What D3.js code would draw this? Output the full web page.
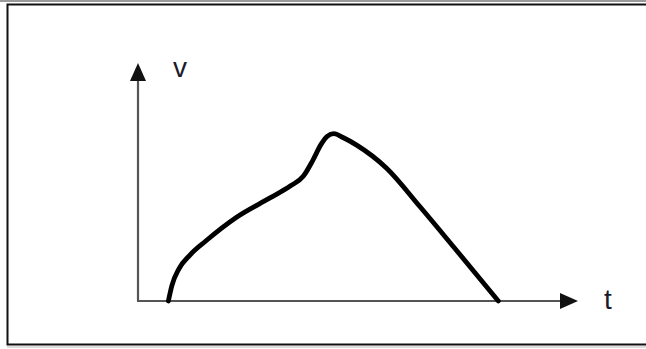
<!DOCTYPE html>
<html>
<head>
<meta charset="utf-8">
<script src="https://cdn.jsdelivr.net/npm/d3@7"></script>
<style>
  body { margin: 0; background: #fff; }
</style>
</head>
<body>
<div id="chart"></div>
<script>
// curve points (t, v in axis units 0..100)
var tValues = [6.9, 7.7, 9.3, 11.8, 15.4, 22.4, 30.0, 34.6, 37.6, 39.7, 41.6, 43.0, 44.5, 46.7, 49.7, 56.5, 64.1, 71.7, 81.9];
var vValues = [0, 6.5, 13.5, 19.3, 25.2, 35.2, 43.3, 48.3, 52.5, 59.0, 65.8, 69.2, 70.3, 68.6, 65.5, 55.8, 39.6, 22.8, 0];
var axisLabels = ["v", "t"];

var width = 646, height = 349;

var svg = d3.select("#chart").append("svg")
    .attr("width", width)
    .attr("height", height);

// frame around the figure
svg.append("line")
    .attr("x1", 0).attr("x2", width)
    .attr("y1", 1).attr("y2", 1)
    .attr("stroke", "#9a9a9a")
    .attr("stroke-width", 2);

svg.append("rect")
    .attr("x", 7.5).attr("y", 4.5)
    .attr("width", 660).attr("height", 340)
    .attr("fill", "none")
    .attr("stroke", "#111")
    .attr("stroke-width", 2);

svg.append("line")
    .attr("x1", 7).attr("x2", width)
    .attr("y1", 347).attr("y2", 347)
    .attr("stroke", "#bbb")
    .attr("stroke-width", 1);

// scales: 0..100 goes from origin to arrow tip
var xScale = d3.scaleLinear().domain([0, 100]).range([138, 578]);
var yScale = d3.scaleLinear().domain([0, 100]).range([301, 63]);

var arrowLen = 18, arrowHalf = 8;

// axes
svg.append("line")
    .attr("x1", xScale(0)).attr("y1", yScale(0))
    .attr("x2", xScale(0)).attr("y2", yScale(100) + arrowLen)
    .attr("stroke", "#555")
    .attr("stroke-width", 2.2);

svg.append("line")
    .attr("x1", xScale(0) - 1).attr("y1", yScale(0))
    .attr("x2", xScale(100) - arrowLen).attr("y2", yScale(0))
    .attr("stroke", "#555")
    .attr("stroke-width", 2.2);

// arrow heads
svg.append("path")
    .attr("d", "M" + xScale(0) + "," + yScale(100) +
        "L" + (xScale(0) - arrowHalf) + "," + (yScale(100) + arrowLen) +
        "L" + (xScale(0) + arrowHalf) + "," + (yScale(100) + arrowLen) + "Z")
    .attr("fill", "#111");

svg.append("path")
    .attr("d", "M" + xScale(100) + "," + yScale(0) +
        "L" + (xScale(100) - arrowLen) + "," + (yScale(0) - arrowHalf) +
        "L" + (xScale(100) - arrowLen) + "," + (yScale(0) + arrowHalf) + "Z")
    .attr("fill", "#111");

// axis labels
svg.append("text")
    .attr("x", 173).attr("y", 77)
    .attr("font-family", "Liberation Sans, Arial, sans-serif")
    .attr("font-size", 28)
    .attr("fill", "#1a1a2a")
    .text(axisLabels[0]);

svg.append("text")
    .attr("x", 604).attr("y", 309)
    .attr("font-family", "Liberation Sans, Arial, sans-serif")
    .attr("font-size", 28)
    .attr("fill", "#1a1a2a")
    .text(axisLabels[1]);

// the v(t) curve
var points = tValues.map((t, i) => [t, vValues[i]]);

var line = d3.line()
    .x(d => xScale(d[0]))
    .y(d => yScale(d[1]))
    .curve(d3.curveMonotoneX);

svg.append("path")
    .datum(points)
    .attr("d", line)
    .attr("fill", "none")
    .attr("stroke", "#000")
    .attr("stroke-width", 4.8)
    .attr("stroke-linecap", "round")
    .attr("stroke-linejoin", "round");
</script>
</body>
</html>
